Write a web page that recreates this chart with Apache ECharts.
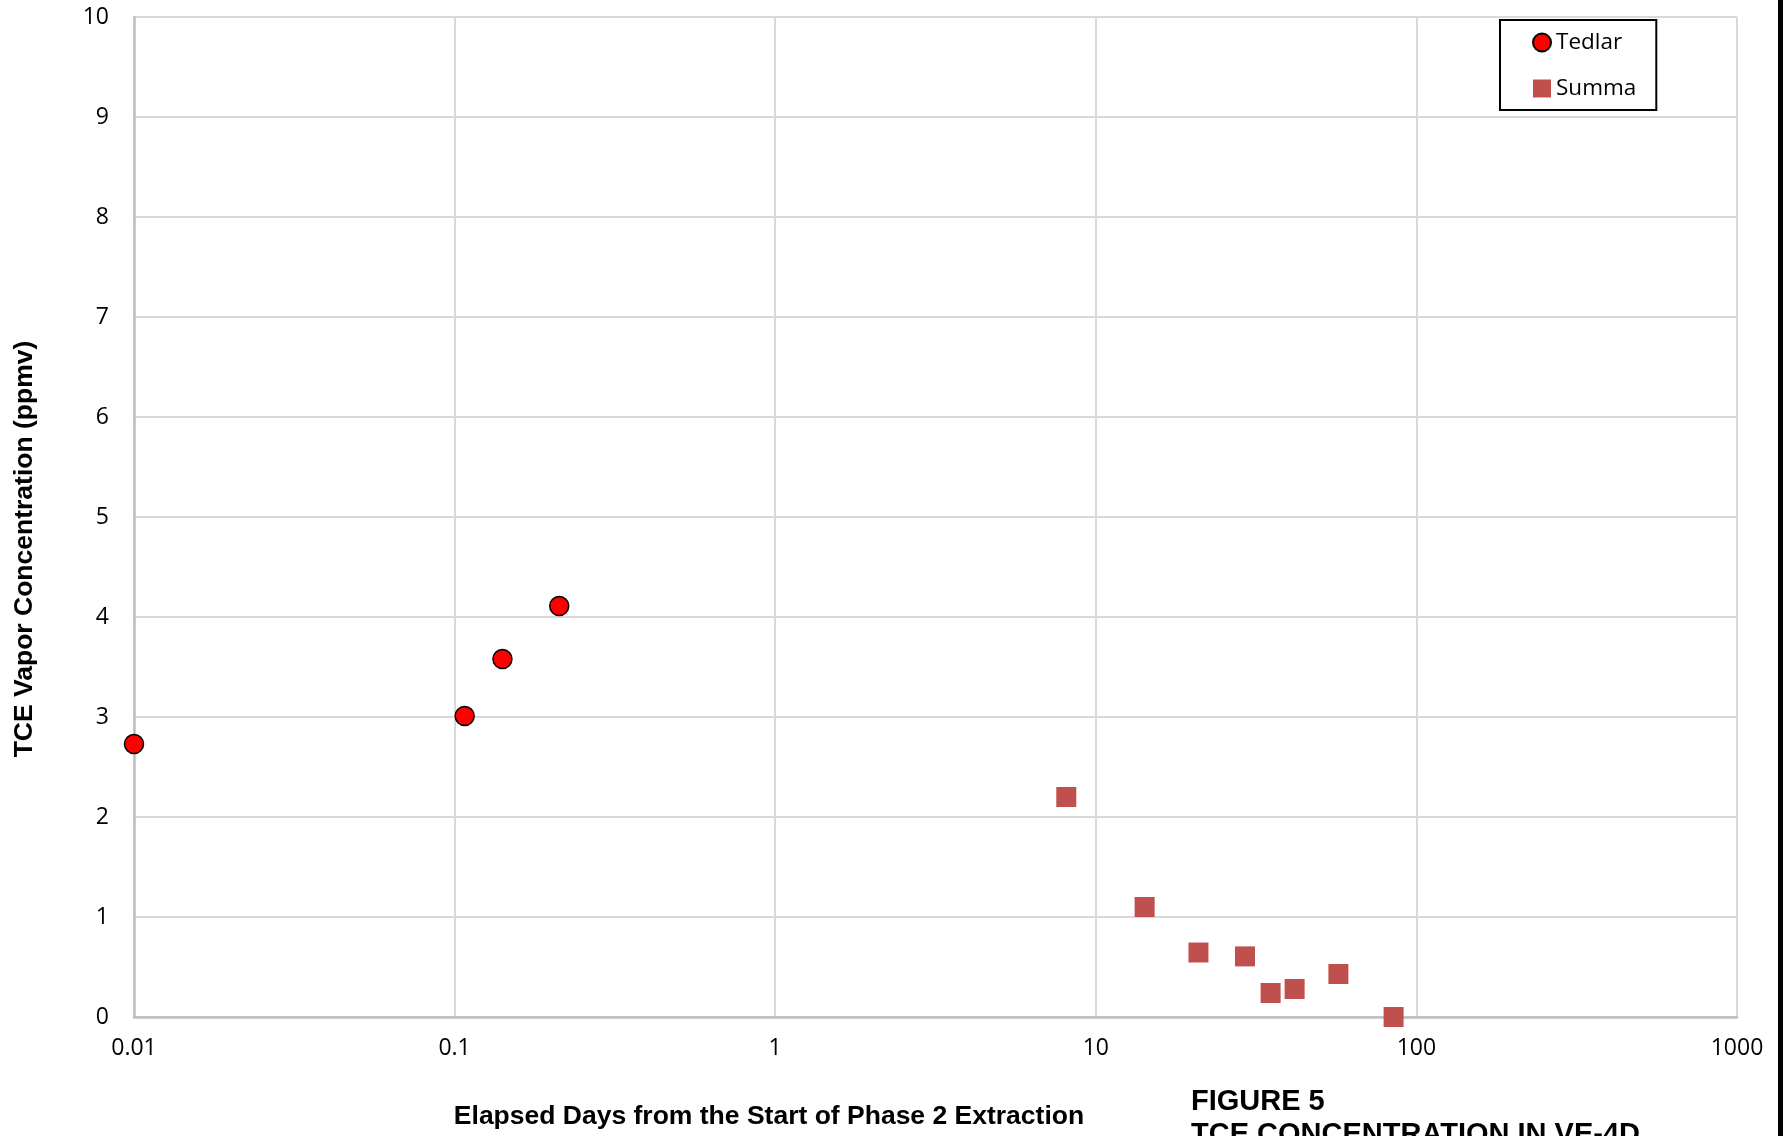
<!DOCTYPE html>
<html>
<head>
<meta charset="utf-8">
<title>TCE Concentration in VE-4D</title>
<script src="https://cdn.jsdelivr.net/npm/echarts@6/dist/echarts.min.js"></script>
<style>
  html, body { margin: 0; padding: 0; background: #fff; }
  #chart { width: 1788px; height: 1136px; }
</style>
</head>
<body>
<div id="chart"></div>
<script>
// Tedlar bag samples: elapsed days and TCE vapor concentration (ppmv)
const tedlarDays = [0.01, 0.1075, 0.141, 0.212];
const tedlarPpmv = [2.73, 3.01, 3.58, 4.11];

// Summa canister samples
const summaDays = [8.09, 14.2, 20.9, 29.2, 35.1, 41.7, 57.1, 84.9];
const summaPpmv = [2.20, 1.10, 0.645, 0.606, 0.24, 0.28, 0.43, 0.0];

// Axis ranges
const xMin = 0.01, xMax = 1000;
const yMin = 0, yMax = 10, yStep = 1;

// Text
const xTitle = 'Elapsed Days from the Start of Phase 2 Extraction';
const yTitle = 'TCE Vapor Concentration (ppmv)';
const figureLines = ['FIGURE 5', 'TCE CONCENTRATION IN VE-4D'];

const pairs = (xs, ys) => xs.map((x, i) => [x, ys[i]]);

const labelFont = { fontFamily: '"Open Sans", "Noto Sans", sans-serif', fontSize: 23, color: '#000' };
const boldFont = '"Liberation Sans", Arial, sans-serif';

const chart = echarts.init(document.getElementById('chart'), null, { renderer: 'canvas' });

chart.setOption({
  backgroundColor: '#ffffff',
  animation: false,
  grid: { left: 134, right: 51, top: 17, bottom: 119, containLabel: false },
  legend: {
    orient: 'vertical',
    left: 1500,
    top: 20,
    padding: [11, 20, 10, 32],
    itemWidth: 18,
    itemHeight: 18,
    itemGap: 23,
    borderColor: '#000',
    borderWidth: 2,
    backgroundColor: '#fff',
    textStyle: Object.assign({}, labelFont, { fontSize: 22.5 }),
    data: [
      { name: 'Tedlar', icon: 'circle' },
      { name: 'Summa', icon: 'rect' }
    ]
  },
  xAxis: {
    type: 'log',
    logBase: 10,
    min: xMin,
    max: xMax,
    axisLine: { show: true, lineStyle: { color: '#BFBFBF', width: 2.5 } },
    axisTick: { show: false },
    minorTick: { show: false },
    splitLine: { show: true, lineStyle: { color: '#D9D9D9', width: 2 } },
    axisLabel: Object.assign({
      margin: 20,
      formatter: v => String(+Number(v).toPrecision(6))
    }, labelFont)
  },
  yAxis: {
    type: 'value',
    min: yMin,
    max: yMax,
    interval: yStep,
    axisLine: { show: true, lineStyle: { color: '#BFBFBF', width: 2.5 } },
    axisTick: { show: false },
    splitLine: { show: true, lineStyle: { color: '#D9D9D9', width: 2 } },
    axisLabel: Object.assign({ margin: 25 }, labelFont)
  },
  series: [
    {
      name: 'Tedlar',
      type: 'scatter',
      clip: false,
      symbol: 'circle',
      symbolSize: 19,
      itemStyle: { color: '#FF0000', borderColor: '#000', borderWidth: 1.5, opacity: 1 },
      data: pairs(tedlarDays, tedlarPpmv)
    },
    {
      name: 'Summa',
      type: 'scatter',
      clip: false,
      symbol: 'rect',
      symbolSize: 20,
      itemStyle: { color: '#C0504D', opacity: 1 },
      data: pairs(summaDays, summaPpmv)
    }
  ],
  graphic: [
    {
      type: 'text',
      x: 769, y: 1117,
      style: { text: xTitle, font: 'bold 26.5px ' + boldFont, fill: '#000', textAlign: 'center', textVerticalAlign: 'middle' }
    },
    {
      type: 'text',
      x: 25, y: 549,
      rotation: Math.PI / 2,
      style: { text: yTitle, font: 'bold 26.5px ' + boldFont, fill: '#000', textAlign: 'center', textVerticalAlign: 'middle' }
    },
    {
      type: 'text',
      x: 1191, y: 1102,
      style: { text: figureLines[0], font: 'bold 29px ' + boldFont, fill: '#000', textAlign: 'left', textVerticalAlign: 'middle' }
    },
    {
      type: 'text',
      x: 1191, y: 1135,
      style: { text: figureLines[1], font: 'bold 29px ' + boldFont, fill: '#000', textAlign: 'left', textVerticalAlign: 'middle' }
    },
    {
      // page border on the right edge
      type: 'rect',
      shape: { x: 1778, y: 0, width: 5, height: 1136 },
      style: { fill: '#000' }
    }
  ]
});
</script>
</body>
</html>
